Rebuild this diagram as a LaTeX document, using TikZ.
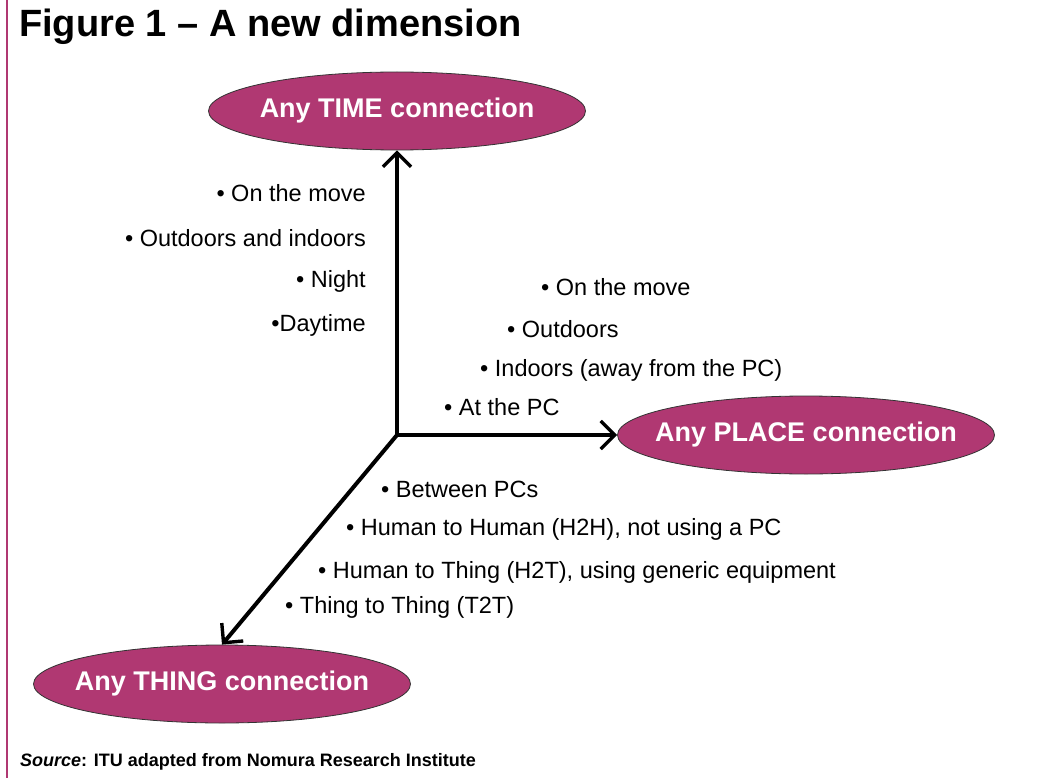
\documentclass[tikz,border=0pt]{standalone}
\usepackage{fontspec}
\setmainfont{Liberation Sans}
\usetikzlibrary{shapes.geometric,arrows.meta}

\definecolor{plum}{RGB}{176,56,114}

\tikzset{
  conn/.style={ellipse, draw=black!80, line width=0.8pt, fill=plum,
    minimum width=377pt, minimum height=78pt, inner xsep=-50pt, inner ysep=0pt,
    text=white, font=\fontsize{27}{31}\selectfont\bfseries},
  item/.style={font=\fontsize{23.5}{27}\selectfont, inner sep=0pt},
  axis/.style={line width=4pt, -{Straight Barb[length=14pt,width=28pt,line width=3.4pt]}}
}

\begin{document}
\begin{tikzpicture}[x=1pt,y=-1pt]
  \useasboundingbox (0,0) rectangle (1059,778);
  \draw[plum, line width=2pt] (7,0) -- (7,778);

  \node[anchor=west, inner sep=0pt, font=\fontsize{38}{42}\selectfont\bfseries] (title) at (19,27) {Figure 1 – A new dimension};

  %Define nodes
  \coordinate (o) at (397,435);
  \node[conn] (time) at (397,111) {Any TIME connection};
  \node[conn] (place) at (806,435) {Any PLACE connection};
  \node[conn] (thing) at (222,684) {Any THING connection};

  % Connect the nodes
  \draw[axis] (o) -- (time);
  \draw[axis] (o) -- (place);
  \draw[axis] (o) -- (thing.north);

  % time list
  \node[item, anchor=east] (t1) at (366,193) {• On the move};
  \node[item, anchor=east] (t2) at (366,238) {• Outdoors and indoors};
  \node[item, anchor=east] (t3) at (366,281) {• Night};
  \node[item, anchor=east] (t4) at (366,325) {•Daytime};

  % place list
  \node[item, anchor=west] (p1) at (541,287) {• On the move};
  \node[item, anchor=west] (p2) at (507,329) {• Outdoors};
  \node[item, anchor=west] (p3) at (480,370) {• Indoors (away from the PC)};
  \node[item, anchor=west] (p4) at (444,407) {• At the PC};

  % thing list
  \node[item, anchor=west] (h1) at (381,489) {• Between PCs};
  \node[item, anchor=west] (h2) at (346,529) {• Human to Human (H2H), not using a PC};
  \node[item, anchor=west] (h3) at (318,572) {• Human to Thing (H2T), using generic equipment};
  \node[item, anchor=west] (h4) at (285,607) {• Thing to Thing (T2T)};

  \node[anchor=west, inner sep=0pt, font=\fontsize{18}{22}\selectfont\bfseries] (src) at (20,762) {\textit{Source}: ITU adapted from Nomura Research Institute};
\end{tikzpicture}
\end{document}
